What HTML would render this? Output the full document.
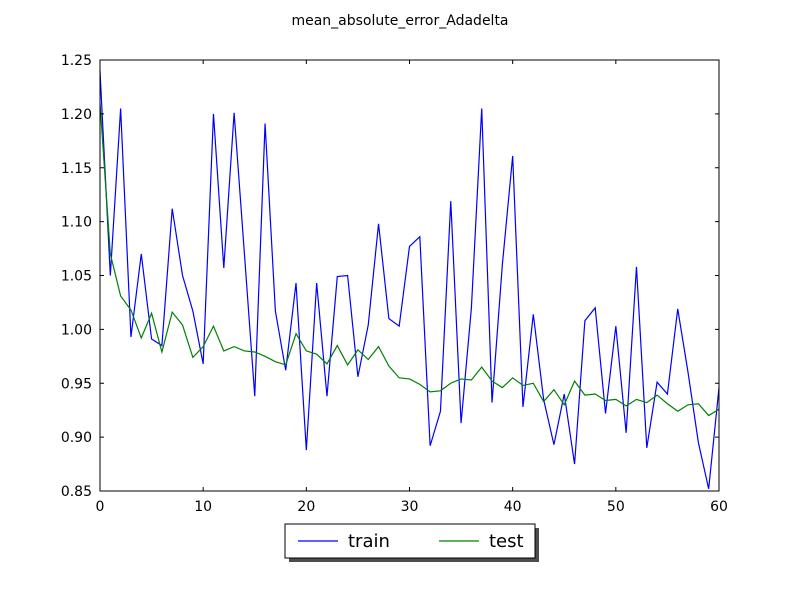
<!DOCTYPE html>
<html><head><meta charset="utf-8"><style>
body{margin:0;background:#fff;}
svg{display:block;font-family:"DejaVu Sans","Liberation Sans",sans-serif;}
</style></head><body>
<svg id="c" width="800" height="600" viewBox="0 0 800 600">
<rect width="800" height="600" fill="#fff"/>
<text x="400" y="25" text-anchor="middle" font-size="14">mean_absolute_error_Adadelta</text>
<g id="plot"></g>
</svg>
<script>
const xTicks=[0,10,20,30,40,50,60];
const yTicks=[0.85,0.90,0.95,1.00,1.05,1.10,1.15,1.20,1.25];
const trainValues=[1.24,1.05,1.205,0.993,1.07,0.991,0.985,1.112,1.05,1.017,0.968,1.2,1.057,1.201,1.07,0.938,1.191,1.017,0.962,1.043,0.888,1.043,0.938,1.049,1.05,0.956,1.004,1.098,1.01,1.003,1.077,1.086,0.892,0.924,1.119,0.913,1.02,1.205,0.932,1.06,1.161,0.928,1.014,0.935,0.893,0.94,0.875,1.008,1.02,0.922,1.003,0.904,1.058,0.89,0.951,0.94,1.019,0.96,0.895,0.852,0.946];
const testValues=[1.21,1.07,1.031,1.018,0.992,1.015,0.979,1.016,1.004,0.974,0.984,1.003,0.98,0.984,0.98,0.979,0.975,0.97,0.967,0.996,0.98,0.977,0.968,0.985,0.967,0.981,0.972,0.984,0.966,0.955,0.954,0.949,0.942,0.943,0.95,0.954,0.953,0.965,0.952,0.946,0.955,0.948,0.95,0.933,0.944,0.93,0.952,0.939,0.94,0.934,0.935,0.929,0.935,0.932,0.939,0.931,0.924,0.93,0.931,0.92,0.926];
const L=100,R=719,T=60,B=491,xMin=0,xMax=60,yMin=0.85,yMax=1.25;
const xs=v=>L+(v-xMin)/(xMax-xMin)*(R-L);
const ys=v=>B-(v-yMin)/(yMax-yMin)*(B-T);
const NS="http://www.w3.org/2000/svg";
const g=document.getElementById('plot');
function mk(t,a,p){const e=document.createElementNS(NS,t);for(const k in a)e.setAttribute(k,a[k]);(p||g).appendChild(e);return e;}
function series(vals,color,name){
  const pts=vals.map((v,i)=>xs(i).toFixed(2)+','+ys(v).toFixed(2)).join(' ');
  const e=mk('polyline',{points:pts,fill:'none',stroke:color,'stroke-width':1.2});
  
  
}
series(trainValues,'#0000ff','train-line');
series(testValues,'#008000','test-line');
const frame=mk('rect',{x:L,y:T,width:R-L,height:B-T,fill:'none',stroke:'#000','stroke-width':1});


xTicks.forEach(t=>{
  const x=xs(t);
  mk('line',{x1:x,y1:B,x2:x,y2:B-4,stroke:'#000'});
  mk('line',{x1:x,y1:T,x2:x,y2:T+4,stroke:'#000'});
  const tx=mk('text',{x:x,y:B+20,'text-anchor':'middle','font-size':14});
  tx.textContent=t;
  
  
});
yTicks.forEach(t=>{
  const y=ys(t);
  mk('line',{x1:L,y1:y,x2:L+4,y2:y,stroke:'#000'});
  mk('line',{x1:R,y1:y,x2:R-4,y2:y,stroke:'#000'});
  const tx=mk('text',{x:L-8,y:y+5,'text-anchor':'end','font-size':14});
  tx.textContent=t.toFixed(2);
  
  
});
const lg=mk('g',{});


mk('rect',{x:289,y:528,width:250,height:34,fill:'#4d4d4d'},lg);
mk('rect',{x:285,y:524,width:250,height:34,fill:'#fff',stroke:'#000','stroke-width':1},lg);
mk('line',{x1:298,y1:541,x2:338,y2:541,stroke:'#0000ff','stroke-width':1.2},lg);
const t1=mk('text',{x:348,y:547,'font-size':18},lg);t1.textContent='train';


mk('line',{x1:439,y1:541,x2:479,y2:541,stroke:'#008000','stroke-width':1.2},lg);
const t2=mk('text',{x:489,y:547,'font-size':18},lg);t2.textContent='test';


</script>
</body></html>
